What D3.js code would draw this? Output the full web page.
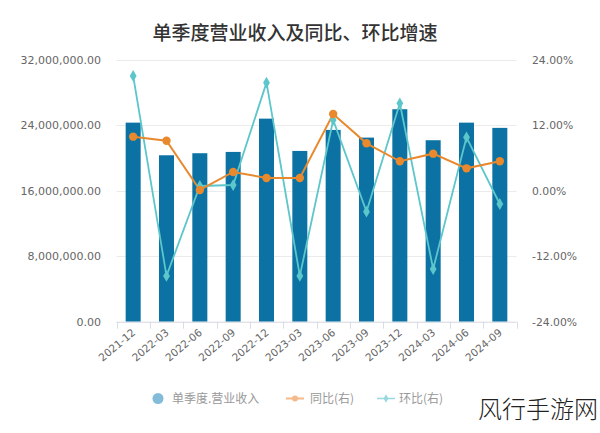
<!DOCTYPE html>
<html><head><meta charset="utf-8">
<script src="https://cdn.jsdelivr.net/npm/d3@7"></script>
<style>body{margin:0;background:#fff}svg{display:block}</style>
</head><body>
<svg id="c" width="600" height="433"></svg>
<script>
const categories = ["2021-12","2022-03","2022-06","2022-09","2022-12","2023-03","2023-06","2023-09","2023-12","2024-03","2024-06","2024-09"];
const revenue = [24340000,20350000,20600000,20760000,24830000,20880000,23450000,22510000,25980000,22190000,24340000,23700000];
const yoy = [9.94,9.2,0.16,3.46,2.36,2.36,14.1,8.72,5.42,6.82,4.13,5.42];
const qoq = [21.07,-15.6,0.89,1.07,19.85,-15.6,13.0,-3.82,16.06,-14.34,9.82,-2.41];
const leftTicks = [0,8000000,16000000,24000000,32000000];
const rightTicks = [-24,-12,0,12,24];
const title = "单季度营业收入及同比、环比增速";
const legendNames = ["单季度.营业收入","同比(右)","环比(右)"];

const svg = d3.select("#c");
const font = "'Noto Sans CJK SC','Noto Sans',sans-serif";
const L=116.5, R=516.5, T=60, B=321.7;
const x = d3.scaleBand().domain(categories).range([L,R]);
const yL = d3.scaleLinear().domain([0,32000000]).range([B,T]);
const yR = d3.scaleLinear().domain([-24,24]).range([B,T]);
const cBar="#0b72a3", cYoy="#e8892e", cQoq="#5cc6cb";

svg.append("text").attr("x",295).attr("y",40).attr("text-anchor","middle")
  .attr("font-family",font).attr("font-size",19).attr("font-weight",500).attr("fill","#333").text(title);

// grid
svg.append("g").selectAll("line").data(leftTicks).join("line")
  .attr("x1",L).attr("x2",R).attr("y1",d=>Math.round(yL(d))+0.5).attr("y2",d=>Math.round(yL(d))+0.5)
  .attr("stroke","#ebebeb").attr("stroke-width",1);

// axis labels
const fmtL = d3.format(",.2f");
svg.append("g").selectAll("text").data(leftTicks).join("text")
  .attr("x",101).attr("y",d=>yL(d)+4).attr("text-anchor","end")
  .attr("font-family","'DejaVu Sans',sans-serif").attr("font-size",11).attr("fill","#666")
  .text(d=>fmtL(d));
svg.append("g").selectAll("text").data(rightTicks).join("text")
  .attr("x",532).attr("y",d=>yR(d)+4).attr("text-anchor","start")
  .attr("font-family","'DejaVu Sans',sans-serif").attr("font-size",10.8).attr("fill","#666")
  .text(d=>d.toFixed(2)+"%");

// bars
const bw = 15;
svg.append("g").selectAll("rect").data(revenue).join("rect")
  .attr("x",(d,i)=>x(categories[i])+x.bandwidth()/2-bw/2).attr("width",bw)
  .attr("y",d=>yL(d)).attr("height",d=>B-yL(d)).attr("fill",cBar);

// x axis
const ax = svg.append("g");
ax.append("line").attr("x1",L).attr("x2",R).attr("y1",B+0.5).attr("y2",B+0.5).attr("stroke","#d8dde6");
const bounds = categories.map(c=>x(c)).concat([R]);
ax.selectAll("line.t").data(bounds).join("line").attr("class","t")
  .attr("x1",d=>Math.round(d)+0.5).attr("x2",d=>Math.round(d)+0.5).attr("y1",B).attr("y2",B+7).attr("stroke","#d8dde6");
ax.selectAll("text").data(categories).join("text")
  .attr("transform",d=>`translate(${x(d)+x.bandwidth()/2+3},${B+12}) rotate(-40)`)
  .attr("text-anchor","end").attr("font-family","'DejaVu Sans',sans-serif").attr("font-size",10.5).attr("fill","#666")
  .text(d=>d);

// lines
const cx = (i)=>x(categories[i])+x.bandwidth()/2;
const lineY = d3.line().x((d,i)=>cx(i)).y(d=>yR(d));
svg.append("path").datum(qoq).attr("d",lineY).attr("fill","none").attr("stroke",cQoq).attr("stroke-width",1.8);
svg.append("path").datum(yoy).attr("d",lineY).attr("fill","none").attr("stroke",cYoy).attr("stroke-width",2);
svg.append("g").selectAll("path").data(qoq).join("path")
  .attr("d",d3.symbol(d3.symbolDiamond,40)).attr("transform",(d,i)=>`translate(${cx(i)},${yR(d)})`).attr("fill",cQoq);
svg.append("g").selectAll("circle").data(yoy).join("circle")
  .attr("cx",(d,i)=>cx(i)).attr("cy",d=>yR(d)).attr("r",4.2).attr("fill",cYoy);

// legend
const lg = svg.append("g").attr("font-family",font).attr("font-size",12).attr("fill","#999");
lg.append("circle").attr("cx",158).attr("cy",398.5).attr("r",5.5).attr("fill","#82bcd8");
lg.append("text").attr("x",172).attr("y",403).text(legendNames[0]);
lg.append("line").attr("x1",286).attr("x2",304).attr("y1",398.5).attr("y2",398.5).attr("stroke","#f5b98a").attr("stroke-width",2);
lg.append("circle").attr("cx",295).attr("cy",398.5).attr("r",3).attr("fill","#f5b98a");
lg.append("text").attr("x",310).attr("y",403).text(legendNames[1]);
lg.append("line").attr("x1",377).attr("x2",395).attr("y1",398.5).attr("y2",398.5).attr("stroke","#9ad8e0").attr("stroke-width",1.5);
lg.append("path").attr("d",d3.symbol(d3.symbolDiamond,20)).attr("transform","translate(386,398.5)").attr("fill","#9ad8e0");
lg.append("text").attr("x",399).attr("y",403).text(legendNames[2]);

// watermark
svg.append("text").attr("x",598).attr("y",418).attr("text-anchor","end")
  .attr("font-family",font).attr("font-size",24).attr("font-weight",300).attr("fill","#222").text("风行手游网");
</script>
</body></html>
